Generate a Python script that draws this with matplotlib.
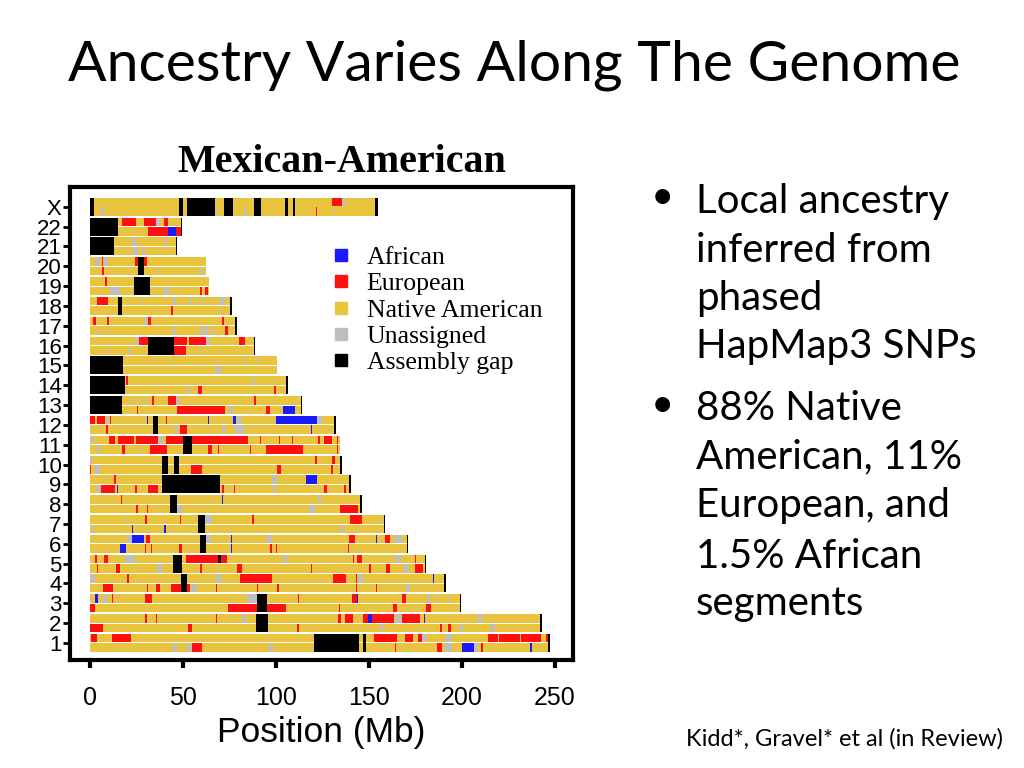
import matplotlib.pyplot as plt
from matplotlib.lines import Line2D

# chromosomes, bottom to top
chrom_labels = ['1', '2', '3', '4', '5', '6', '7', '8', '9', '10', '11', '12',
                '13', '14', '15', '16', '17', '18', '19', '20', '21', '22', 'X']
chrom_lengths = [247.2, 242.9, 199.5, 191.2, 180.9, 171.0, 158.8, 146.3, 140.3,
                 135.4, 134.5, 132.3, 114.1, 106.4, 100.3, 88.8, 78.8, 76.1,
                 63.8, 62.4, 46.9, 49.7, 154.9]
single_bar = ['X']

# segments: (chromosome, haplotype, start Mb, end Mb); haplotype 0=top, 1=bottom, 2=both
gap_segments = [
    ('X', 2, 0, 2), ('X', 2, 48, 50), ('X', 2, 52, 67), ('X', 2, 72, 77), ('X', 2, 88, 92),
    ('X', 2, 105, 106.5), ('X', 2, 109, 110), ('X', 2, 153.2, 154.9),
    ('22', 2, 0, 15), ('22', 2, 49, 49.7), ('21', 2, 0, 13), ('21', 2, 46.2, 46.9),
    ('20', 2, 26, 29), ('19', 2, 23.5, 32), ('18', 2, 15, 17), ('18', 2, 75.4, 76.1),
    ('17', 2, 78.1, 78.8), ('16', 2, 31, 45), ('16', 2, 88.1, 88.8), ('15', 2, 0, 18),
    ('14', 2, 0, 19), ('14', 2, 105.2, 106.4), ('13', 2, 0, 17), ('13', 2, 113.4, 114.1),
    ('12', 2, 34, 36.5), ('12', 2, 131.4, 132.3), ('11', 2, 50, 54.8),
    ('10', 2, 38.7, 42), ('10', 2, 45, 48), ('10', 2, 134.6, 135.4),
    ('9', 2, 38.7, 70), ('9', 2, 139.3, 140.3), ('8', 2, 43, 46.8), ('8', 2, 145.3, 146.3),
    ('7', 2, 58, 61.8), ('7', 2, 158.2, 158.8), ('6', 2, 59, 62.4), ('6', 2, 170.3, 171.0),
    ('5', 2, 44.6, 49.5), ('5', 0, 69, 70.5), ('5', 2, 180.2, 180.9),
    ('4', 2, 49, 52), ('4', 2, 190.5, 191.2), ('3', 2, 89.8, 95.2), ('3', 2, 198.8, 199.5),
    ('2', 2, 89.2, 95.7), ('2', 2, 242.1, 242.9),
    ('1', 2, 120.4, 144.6), ('1', 2, 146.8, 148.4), ('1', 2, 246.5, 247.2),
]

eur_segments = [
    ('X', 0, 130, 135.5), ('X', 1, 121.3, 121.8),
    ('22', 0, 17, 25), ('22', 0, 29, 35.5), ('22', 0, 40, 42), ('22', 1, 31, 42), ('22', 1, 46.5, 49),
    ('20', 0, 6.5, 7.2), ('20', 0, 24, 26), ('20', 0, 29, 30.5), ('20', 1, 6.5, 7.5),
    ('19', 0, 8, 9), ('19', 1, 59, 60.2), ('19', 1, 62, 63.5),
    ('18', 0, 4, 9.5), ('18', 1, 43.8, 44.5),
    ('17', 0, 1.5, 3), ('17', 0, 9, 10), ('17', 0, 31, 33), ('17', 0, 71, 72), ('17', 1, 72.5, 74),
    ('16', 0, 26.5, 31), ('16', 0, 45, 52), ('16', 0, 53, 62.5), ('16', 0, 80, 83.5), ('16', 1, 45, 51.5),
    ('14', 0, 19.5, 20.2), ('14', 1, 58, 60), ('14', 1, 99.2, 99.9),
    ('13', 0, 33.5, 34.2), ('13', 0, 42, 46), ('13', 0, 88, 89), ('13', 1, 25.3, 25.9),
    ('13', 1, 47, 72.5), ('13', 1, 94.5, 97),
    ('12', 0, 0, 2.7), ('12', 0, 3.8, 8), ('12', 0, 10.5, 11.1), ('12', 0, 40.8, 41.4),
    ('12', 1, 8.6, 9.7), ('12', 1, 48.4, 52),
    ('11', 0, 10, 13.4), ('11', 0, 15, 23.7), ('11', 0, 25, 36.5), ('11', 0, 41, 50),
    ('11', 0, 55, 85), ('11', 0, 91.2, 91.8), ('11', 0, 101.8, 102.4), ('11', 0, 108.4, 109),
    ('11', 0, 122.8, 123.4), ('11', 0, 126, 130), ('11', 0, 132.8, 133.4),
    ('11', 1, 17, 19), ('11', 1, 32, 41.4), ('11', 1, 63.5, 65.6), ('11', 1, 68.8, 69.4),
    ('11', 1, 85.8, 86.4), ('11', 1, 94.6, 114.5), ('11', 1, 132.6, 133.2),
    ('10', 0, 121, 122), ('10', 0, 130, 131.7), ('10', 1, 0, 0.8), ('10', 1, 54.3, 60.2),
    ('10', 1, 100.5, 102.7), ('10', 1, 129.6, 130.6),
    ('9', 0, 13, 14), ('9', 1, 6, 13.4), ('9', 1, 24, 25.3), ('9', 1, 31, 36.5), ('9', 1, 71, 72),
    ('9', 1, 77.3, 77.9), ('9', 1, 126, 127.4), ('9', 1, 136.8, 137.4),
    ('8', 0, 16.8, 17.4), ('8', 1, 25, 25.6), ('8', 1, 30.8, 31.4), ('8', 1, 134.4, 144),
    ('7', 0, 29.6, 30.6), ('7', 0, 48.2, 48.8), ('7', 0, 87, 88), ('7', 0, 140, 146),
    ('6', 0, 30, 32.3), ('6', 0, 139, 142.5), ('6', 0, 158.6, 161.3), ('6', 1, 29.4, 30),
    ('6', 1, 32.6, 33.2), ('6', 1, 47.8, 49.5), ('6', 1, 97, 97.6), ('6', 1, 99.8, 100.4),
    ('6', 1, 138.8, 139.4),
    ('5', 0, 2.7, 3.8), ('5', 0, 7.5, 9.7), ('5', 0, 51.6, 69), ('5', 0, 70.5, 73.7),
    ('5', 0, 141.2, 142.2), ('5', 0, 143.8, 146.2), ('5', 0, 174.7, 175.5),
    ('5', 1, 3.6, 4.2), ('5', 1, 14, 16), ('5', 1, 59, 60.2), ('5', 1, 79, 81.7),
    ('5', 1, 118.6, 119.4), ('5', 1, 150.2, 150.9), ('5', 1, 159, 161.3), ('5', 1, 174.7, 179),
    ('4', 0, 20, 21), ('4', 0, 80.6, 97.8), ('4', 0, 130.6, 137.6), ('4', 0, 142.8, 143.4),
    ('4', 1, 7, 12.4), ('4', 1, 30.8, 31.4), ('4', 1, 35.5, 37.6), ('4', 1, 43.5, 49),
    ('4', 1, 52, 53.8), ('4', 1, 67.5, 68.1), ('4', 1, 89.6, 90.2), ('4', 1, 100.5, 101.6),
    ('4', 1, 142.8, 143.4), ('4', 1, 153.6, 154.2),
    ('3', 0, 11.8, 12.4), ('3', 0, 29.6, 33.3), ('3', 0, 112, 112.6), ('3', 0, 141, 143.5),
    ('3', 0, 168, 170), ('3', 1, 0, 2.7), ('3', 1, 74.2, 89.8), ('3', 1, 95.2, 105.4),
    ('3', 1, 133.8, 134.4), ('3', 1, 163, 165), ('3', 1, 180.6, 183.3),
    ('2', 0, 29.8, 30.4), ('2', 0, 35.3, 35.9), ('2', 0, 67.8, 68.4), ('2', 0, 133.3, 135),
    ('2', 0, 137, 141.4), ('2', 0, 146.8, 149.5), ('2', 0, 151.6, 163.4), ('2', 0, 168, 177.4),
    ('2', 1, 0, 7), ('2', 1, 52.7, 55), ('2', 1, 111.3, 112.4), ('2', 1, 188, 189),
    ('2', 1, 192.5, 194),
    ('1', 0, 0.3, 3.8), ('1', 0, 11.8, 22), ('1', 0, 152.7, 165.3), ('1', 0, 169.4, 173.7),
    ('1', 0, 176.3, 178.5), ('1', 0, 214, 219.4), ('1', 0, 220, 231), ('1', 0, 232, 242.5),
    ('1', 0, 245.4, 247.2), ('1', 1, 54.8, 60.2), ('1', 1, 163.8, 164.4), ('1', 1, 186.6, 189),
    ('1', 1, 210.5, 211.1),
]

afr_segments = [
    ('22', 1, 42, 46), ('13', 1, 104, 110),
    ('12', 0, 30.4, 31), ('12', 0, 63.3, 63.9), ('12', 0, 77, 78.5), ('12', 0, 100, 122),
    ('12', 1, 118.8, 119.4),
    ('9', 0, 116, 122), ('9', 1, 14.3, 14.9), ('8', 0, 70.8, 71.4),
    ('7', 1, 22.5, 23.2), ('7', 1, 39.9, 40.6),
    ('6', 0, 22.6, 29), ('6', 0, 76, 76.6), ('6', 0, 153.7, 154.4), ('6', 1, 16, 19.4),
    ('6', 1, 76, 76.6),
    ('4', 0, 184.2, 184.8), ('3', 0, 2.7, 4.3), ('3', 0, 143.5, 144.1),
    ('2', 0, 149.5, 151.6), ('2', 0, 179.4, 180),
    ('1', 1, 200, 206.5), ('1', 1, 236.8, 237.4),
]

unassigned_segments = [
    ('X', 1, 6, 7.5), ('X', 1, 67.5, 68.5), ('X', 1, 83, 84), ('X', 1, 131, 132), ('X', 0, 135.5, 137),
    ('22', 0, 35.5, 37.5),
    ('21', 0, 22.5, 25), ('21', 1, 23, 26), ('21', 1, 28, 29.5), ('21', 0, 40, 40.7),
    ('20', 0, 2.5, 5.5), ('20', 0, 7.5, 9.5), ('20', 1, 35.3, 35.9), ('20', 1, 59, 61),
    ('19', 1, 11, 16), ('19', 1, 40, 42.5),
    ('18', 0, 27, 27.6), ('18', 0, 44.5, 46.5), ('18', 0, 54, 54.6), ('18', 0, 57.5, 58.1),
    ('18', 0, 60, 60.6), ('18', 0, 70, 72.5), ('18', 1, 69, 69.6),
    ('17', 0, 29.5, 31), ('17', 1, 4.5, 5.1), ('17', 1, 9.5, 10.1), ('17', 1, 44.5, 46),
    ('17', 1, 59, 61), ('17', 1, 62, 63.5), ('17', 1, 65, 66),
    ('16', 0, 25, 26.5), ('16', 0, 62.5, 64.5), ('16', 1, 8.5, 9.1), ('16', 1, 20.5, 21.5),
    ('16', 1, 59, 59.6),
    ('15', 1, 68, 70.5), ('15', 0, 83, 83.6), ('15', 0, 90, 90.6),
    ('14', 1, 52, 54), ('14', 0, 87.2, 88.4), ('14', 1, 57.5, 58),
    ('13', 0, 22.5, 23.1), ('13', 0, 27, 27.6), ('13', 0, 29.5, 30.1), ('13', 0, 46, 48),
    ('13', 1, 75, 77),
    ('12', 0, 8.5, 10), ('12', 0, 79, 81), ('12', 0, 122, 125), ('12', 1, 45.7, 47.3),
    ('12', 1, 71, 72.6), ('12', 1, 78, 83),
    ('11', 0, 0, 1.6), ('11', 0, 36.5, 39), ('11', 1, 3.8, 5.4), ('11', 1, 26, 26.6),
    ('10', 0, 0, 1), ('10', 1, 2.7, 5.4),
    ('9', 1, 3.8, 6), ('9', 0, 98, 100.5), ('9', 1, 98.5, 100),
    ('8', 1, 47, 49.5), ('8', 1, 118, 121), ('8', 0, 122.6, 124),
    ('7', 0, 20, 20.6), ('7', 0, 62, 65.6), ('7', 0, 157.5, 158.2), ('7', 1, 134.4, 136),
    ('7', 1, 1, 2),
    ('6', 0, 20, 22.6), ('6', 0, 62.4, 65), ('6', 0, 95, 98), ('6', 0, 164, 168),
    ('5', 0, 18.8, 24.2), ('5', 1, 36, 38.5), ('5', 0, 103.8, 106), ('5', 0, 164, 167),
    ('5', 1, 169, 171),
    ('4', 0, 0, 2.7), ('4', 0, 68, 70.7), ('4', 1, 54.5, 57.5), ('4', 0, 91, 94),
    ('4', 0, 144, 147), ('4', 1, 170, 172),
    ('3', 0, 7, 9), ('3', 0, 84.4, 89.8), ('3', 0, 181, 183), ('3', 0, 186, 186.6),
    ('3', 0, 193, 193.6),
    ('2', 0, 81.5, 84), ('2', 0, 164, 168), ('2', 0, 208.6, 210.7), ('2', 1, 199, 200.5),
    ('2', 1, 215, 218), ('2', 1, 156, 157.5),
    ('1', 1, 52, 54.4), ('1', 0, 178.5, 181), ('1', 0, 191, 194.6), ('1', 1, 191, 194.6),
    ('1', 1, 206.5, 208.6), ('1', 1, 96, 98.4), ('1', 1, 44.6, 46.8),
]

legend_labels = ['African', 'European', 'Native American', 'Unassigned', 'Assembly gap']
colors = {'African': '#1a1aff', 'European': '#ff1010', 'Native American': '#e9c43f',
          'Unassigned': '#bebebe', 'Assembly gap': '#000000'}

bullet_lines = [['Local ancestry', 'inferred from', 'phased', 'HapMap3 SNPs'],
                ['88% Native', 'American, 11%', 'European, and', '1.5% African', 'segments']]

HH = 0.43   # haplotype bar height
GAP = 0.05  # white line between haplotypes


def hap_span(row, hap):
    if hap == 0:
        return (row + GAP / 2, HH)
    if hap == 1:
        return (row - GAP / 2 - HH, HH)
    return (row - GAP / 2 - HH, 2 * HH + GAP)


fig = plt.figure(figsize=(10.24, 7.68), dpi=100)
ax = fig.add_axes([70 / 1024, 1 - 660 / 768, 503 / 1024, 473 / 768])

row_of = {c: i + 1 for i, c in enumerate(chrom_labels)}

# Native American background for each haplotype
for c, length in zip(chrom_labels, chrom_lengths):
    haps = [2] if c in single_bar else [0, 1]
    for h in haps:
        ax.broken_barh([(0, length)], hap_span(row_of[c], h),
                       facecolor=colors['Native American'], linewidth=0)

for segs, name in [(unassigned_segments, 'Unassigned'), (eur_segments, 'European'),
                   (afr_segments, 'African'), (gap_segments, 'Assembly gap')]:
    for c, h, s, e in segs:
        ax.broken_barh([(s, e - s)], hap_span(row_of[c], h),
                       facecolor=colors[name], linewidth=0)

ax.set_xlim(-10.75, 259.7)
ax.set_ylim(0.14, 24.0)
ax.set_yticks(range(1, len(chrom_labels) + 1))
ax.set_yticklabels(chrom_labels, family=['Liberation Sans Narrow', 'Liberation Sans'], fontsize=16)
ax.set_xticks([0, 50, 100, 150, 200, 250])
ax.set_xticklabels(['0', '50', '100', '150', '200', '250'], family='Liberation Sans', fontsize=18)
ax.tick_params(axis='y', length=5, width=2, pad=1)
ax.tick_params(axis='x', length=6, width=3, pad=13)
for sp in ax.spines.values():
    sp.set_linewidth(3)
ax.set_xlabel('Position (Mb)', family='Liberation Sans', fontsize=25.5, labelpad=4)

handles = [Line2D([], [], marker='s', ls='', markersize=9, color=colors[l]) for l in legend_labels]
ax.legend(handles, legend_labels, loc='upper left', bbox_to_anchor=(328 / 1024, 1 - 246 / 768),
          bbox_transform=fig.transFigure, frameon=False, borderpad=0, borderaxespad=0,
          handlelength=1, handletextpad=0.5, labelspacing=0.13,
          prop={'family': 'Liberation Serif', 'size': 18.5})

fig.text(342 / 1024, 1 - 163 / 768, 'Mexican-American', ha='center', va='center',
         family='Liberation Serif', fontweight='bold', fontsize=28.8)

# slide text
fig.text(68 / 1024, 1 - 65 / 768, 'Ancestry Varies Along The Genome', ha='left', va='center',
         family='Lato', fontsize=41)

baselines = [[213, 262, 310, 358], [420, 468, 517, 568, 615]]
for lines, ys in zip(bullet_lines, baselines):
    fig.text(662 / 1024, 1 - (ys[0] - 15) / 768, '\u2022', ha='center', va='center',
             family='Lato', fontsize=29)
    for t, y in zip(lines, ys):
        fig.text(696 / 1024, 1 - y / 768, t, ha='left', va='baseline', family='Lato', fontsize=29)

fig.text(686 / 1024, 1 - 746 / 768, 'Kidd*, Gravel* et al (in Review)', ha='left', va='baseline',
         family='Lato', fontsize=17)

fig.savefig('out.png', dpi=100)
